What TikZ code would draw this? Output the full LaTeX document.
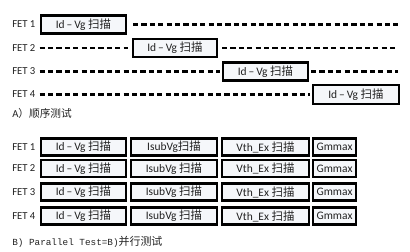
\documentclass[tikz,border=0pt]{standalone}
\usepackage{fontspec}
\setmainfont{Carlito}
\newfontfamily\cjk{Noto Sans CJK SC}
\newfontfamily\monof{Liberation Mono}
\definecolor{boxfill}{HTML}{F5F7FA}
\definecolor{txt}{HTML}{222222}
\begin{document}
\begin{tikzpicture}[x=0.75pt,y=-0.75pt,
  stepbox/.style={draw=black,line width=1.6pt,fill=boxfill,inner sep=0pt,
    font=\fontsize{8.6}{10}\selectfont,text=txt},
  fetlabel/.style={anchor=west,inner sep=0pt,font=\fontsize{8}{10}\selectfont,text=txt},
  dashline/.style={line width=1.6pt,dash pattern=on 3.9pt off 2.4pt}]
\useasboundingbox (0,0) rectangle (410,251);
\newcommand{\bx}[6]{%
  \pgfmathsetmacro{\cx}{(#2+#3)/2}%
  \pgfmathsetmacro{\ww}{(#3-#2-2)*0.75}%
  \node[stepbox,minimum width=\ww pt,minimum height=#5*0.75pt] (#1) at (\cx,#4) {#6};}
\newcommand{\zh}[1]{{\cjk #1}}
\newcommand{\idvg}{Id\,–\,Vg \zh{扫描}}
% ---------- Part A ----------
\node[fetlabel] (la1) at (12,24.5) {FET 1};
\node[fetlabel] (la2) at (12,48) {FET 2};
\node[fetlabel] (la3) at (12,71.5) {FET 3};
\node[fetlabel] (la4) at (12,94.5) {FET 4};
\bx{a1}{40}{127}{24.5}{18}{\idvg}
\bx{a2}{132}{218}{48}{18}{\idvg}
\bx{a3}{222}{309}{71.5}{18}{\idvg}
\bx{a4}{312}{400}{94.5}{19}{\idvg}
\coordinate (e1) at (398,24.5);
\coordinate (e2) at (398,48);
\coordinate (e3) at (398,71.5);
\draw[dashline] ([xshift=4.5pt]a1.east) -- (e1);
\draw[dashline] ([xshift=3pt]la2.east) -- ([xshift=-3pt]a2.west);
\draw[dashline] ([xshift=3pt]a2.east) -- (e2);
\draw[dashline] ([xshift=3pt]la3.east) -- ([xshift=-1.5pt]a3.west);
\draw[dashline] ([xshift=1.5pt]a3.east) -- (e3);
\draw[dashline] ([xshift=3pt]la4.east) -- ([xshift=-1.5pt]a4.west);
\node[fetlabel,font=\fontsize{8}{10}\selectfont] (capA) at (12,113) {A\zh{）顺序测试}};
% ---------- Part B ----------
\foreach \i/\y in {1/147,2/168.5,3/192,4/216}{
  \node[fetlabel] (lb\i) at (12,\y) {FET \i};
  \bx{b\i c1}{40}{127}{\y}{17}{\idvg}
  \ifnum\i=1
    \bx{b\i c2}{130}{218}{\y}{17}{IsubVg\zh{扫描}}
  \else
    \bx{b\i c2}{130}{218}{\y}{17}{IsubVg \zh{扫描}}
  \fi
  \bx{b\i c3}{221}{310}{\y}{17}{Vth\_Ex \zh{扫描}}
  \bx{b\i c4}{312}{357}{\y}{17}{Gmmax}
}
\node[fetlabel,font=\monof\fontsize{7}{9}\selectfont] (capB) at (12,242) {B) Parallel Test=B)\zh{\fontsize{8.2}{9}\selectfont 并行测试}};
\end{tikzpicture}
\end{document}
